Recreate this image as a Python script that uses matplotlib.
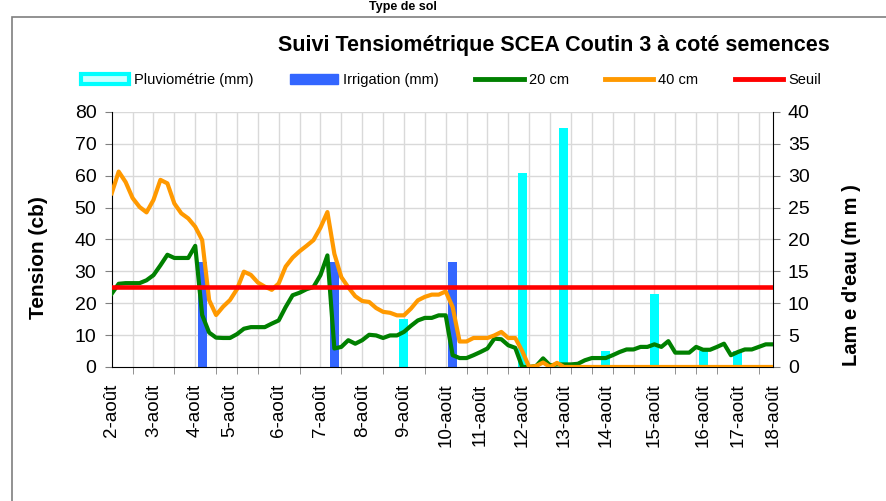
import numpy as np
import matplotlib.pyplot as plt
from matplotlib.lines import Line2D
from matplotlib.patches import Patch, Rectangle

plt.rcParams['font.family'] = ['Liberation Sans', 'DejaVu Sans']

# -------------------- Data --------------------

# tension (cb), one reading per category
tension_20cm = [
    23, 26.1, 26.3, 26.3, 26.3, 27.2, 28.8, 31.9, 35.2, 34.2,
    34.2, 34.2, 38, 16.3, 10.8, 9.2, 9.1, 9.1, 10.3, 12,
    12.5, 12.5, 12.5, 13.6, 14.6, 18.8, 22.5, 23.3, 24.4, 25.1,
    28.8, 35, 5.8, 6.3, 8.4, 7.3, 8.4, 10.1, 9.9, 9.1,
    9.9, 9.9, 11, 12.9, 14.6, 15.4, 15.4, 16.2, 16.2, 3.7,
    2.8, 2.8, 3.7, 4.7, 5.8, 8.9, 8.7, 6.8, 6, 0,
    0, 0.3, 2.7, 0.5, 0.8, 0.8, 0.8, 1, 2.1, 2.8,
    2.8, 2.8, 3.7, 4.7, 5.5, 5.5, 6.3, 6.3, 7.1, 6.3,
    8.1, 4.5, 4.5, 4.5, 6.3, 5.4, 5.4, 6.3, 7.3, 3.7,
    4.7, 5.5, 5.5, 6.3, 7.1, 7.1,
]
tension_40cm = [
    54.5, 61.3, 58, 53, 50.2, 48.5, 52.4, 58.7, 57.6, 51.3,
    48.2, 46.6, 44, 39.8, 21, 16.3, 18.9, 21, 24.4, 29.9,
    28.9, 26.5, 25.2, 24.2, 26.2, 31.5, 34.3, 36.3, 38, 39.8,
    43.7, 48.6, 35.5, 28.2, 25, 22.2, 20.7, 20.4, 18.5, 17.3,
    17, 16.2, 16.2, 18.3, 20.9, 22, 22.7, 22.7, 23.7, 18.8,
    8, 8, 9.1, 9.1, 9.1, 9.9, 11, 9.1, 9.1, 5,
    0, 0.3, 1.4, 0, 1.3, 0, 0, 0, 0, 0,
    0, 0, 0, 0, 0, 0, 0, 0, 0, 0,
    0, 0, 0, 0, 0, 0, 0, 0, 0, 0,
    0, 0, 0, 0, 0, 0,
]
seuil = 25

# water (mm) on the secondary axis
pluie_idx = [42, 59, 65, 71, 78, 85, 90]
pluie_mm = [7.5, 30.5, 37.5, 2.5, 11.5, 2.5, 2.5]
irrig_idx = [13, 32, 49]
irrig_mm = [16.5, 16.5, 16.5]

# category labels (first reading of each day)
date_idx = [0, 6, 12, 17, 24, 30, 36, 42, 48, 53, 59, 65, 71, 78, 85, 90, 95]
date_labels = ['2-août', '3-août', '4-août', '5-août', '6-août', '7-août',
               '8-août', '9-août', '10-août', '11-août', '12-août', '13-août',
               '14-août', '15-août', '16-août', '17-août', '18-août']

# -------------------- Style --------------------

c_20 = '#008000'
c_40 = '#FF9900'
c_seuil = '#FF0000'
c_pluie = '#00FFFF'
c_irrig = '#3366FF'
c_grid = '#D9D9D9'
c_tick = '#808080'

# -------------------- Figure --------------------

n = len(tension_20cm)
idx = np.arange(n)

fig = plt.figure(figsize=(8.86, 5.01), dpi=100)
ax = fig.add_axes([0.1261, 0.2675, 0.7460, 0.5090])
ax2 = ax.twinx()
ax.set_zorder(ax2.get_zorder() + 1)
ax.patch.set_visible(False)

# grid lives on the lower axes so bars cover it
for k in range(3, n, 3):
    ax2.axvline(k, color=c_grid, lw=1, zorder=0)
for v in range(5, 41, 5):
    ax2.axhline(v, color=c_grid, lw=1, zorder=0)

ax2.bar(pluie_idx, pluie_mm, width=1.3, color=c_pluie, zorder=2)
ax2.bar(irrig_idx, irrig_mm, width=1.3, color=c_irrig, zorder=2)

ax.plot(idx, tension_20cm, color=c_20, lw=3, solid_joinstyle='round', zorder=3)
ax.plot(idx, tension_40cm, color=c_40, lw=3, solid_joinstyle='round', zorder=4)
ax.axhline(seuil, color=c_seuil, lw=3.3, zorder=5)

# axes
ax.set_xlim(0, n - 1)
ax.set_ylim(0, 80)
ax2.set_ylim(0, 40)
ax.set_yticks(range(0, 81, 10))
ax2.set_yticks(range(0, 41, 5))

ax.set_xticks(date_idx)
ax.set_xticklabels(date_labels, rotation=90, fontsize=13.5)
ax.set_xticks(range(0, n, 3), minor=True)
ax.tick_params(axis='x', which='major', length=0, pad=12)
ax.tick_params(axis='x', which='minor', length=5, color=c_tick, direction='out')
ax.tick_params(axis='y', length=5, color=c_tick, labelsize=14, pad=6)
ax2.tick_params(axis='y', length=5, color=c_tick, labelsize=14, pad=6)

for s in ['top', 'right']:
    ax.spines[s].set_visible(False)
for s in ['top', 'left', 'bottom']:
    ax2.spines[s].set_visible(False)
ax.spines['left'].set_color('black')
ax.spines['bottom'].set_color('black')
ax2.spines['right'].set_color('black')

ax.set_ylabel('Tension (cb)', fontsize=15, fontweight='bold')
ax.yaxis.set_label_coords(-0.097, 0.43)
ax2.set_ylabel("Lam e d'eau (m m )", fontsize=14.5, fontweight='bold', rotation=90)
ax2.yaxis.set_label_coords(1.105, 0.36)

# titles
fig.text(0.625, 1 - 46 / 501, 'Suivi Tensiométrique SCEA Coutin 3 à coté semences',
         ha='center', va='center', fontsize=15.5, fontweight='bold')
fig.text(0.455, 1 - 1 / 501, 'Type de sol', ha='center', va='top',
         fontsize=9, fontweight='bold')

# legend
handles = [
    Patch(facecolor='#CCFFFF', edgecolor=c_pluie, linewidth=3),
    Patch(facecolor=c_irrig, edgecolor=c_irrig),
    Line2D([], [], color=c_20, lw=3.5),
    Line2D([], [], color=c_40, lw=3.5),
    Line2D([], [], color=c_seuil, lw=3.5),
]
labels = ['Pluviométrie (mm)', 'Irrigation (mm)', '20 cm', '40 cm', 'Seuil']
fig.legend(handles, labels, loc='center', bbox_to_anchor=(0.509, 1 - 80 / 501),
           ncol=5, frameon=False, fontsize=10.5, handlelength=3.3, handleheight=0.7,
           columnspacing=2.5, handletextpad=0.35)

# outer frame of the chart area
fig.add_artist(Rectangle((12 / 886, -0.1), 2, 1.1 - 17 / 501, transform=fig.transFigure,
                         fill=False, edgecolor='#7F7F7F', lw=1.2))

fig.savefig('out.png', dpi=100)
